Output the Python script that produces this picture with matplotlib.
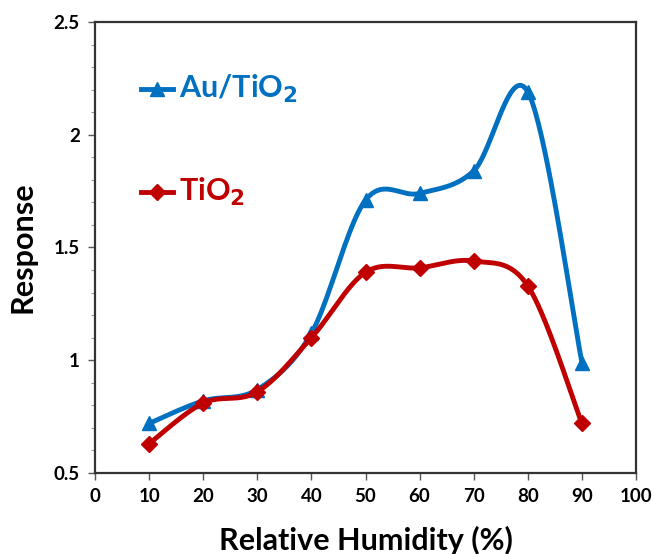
import numpy as np
import matplotlib
matplotlib.use('Agg')
import matplotlib.pyplot as plt
from matplotlib.ticker import MultipleLocator

humidity = [10, 20, 30, 40, 50, 60, 70, 80, 90]
au_tio2 = [0.72, 0.82, 0.87, 1.12, 1.71, 1.74, 1.84, 2.19, 0.99]
tio2 = [0.63, 0.81, 0.86, 1.10, 1.39, 1.41, 1.44, 1.33, 0.72]

BLUE = '#0070C0'
RED = '#C00000'

plt.rcParams['font.family'] = ['Lato', 'DejaVu Sans']
plt.rcParams['font.weight'] = 'bold'
plt.rcParams['mathtext.default'] = 'bf'


def smooth(xs, ys, n=40):
    """Excel-like smoothed line: cubic bezier, control points at 1/6 of neighbour span."""
    xs = np.asarray(xs, float)
    ys = np.asarray(ys, float)
    px = np.concatenate([[xs[0]], xs, [xs[-1]]])
    py = np.concatenate([[ys[0]], ys, [ys[-1]]])
    out_x, out_y = [], []
    t = np.linspace(0, 1, n)
    for i in range(1, len(px) - 2):
        p0 = np.array([px[i], py[i]])
        p3 = np.array([px[i + 1], py[i + 1]])
        c1 = p0 + (np.array([px[i + 1], py[i + 1]]) - np.array([px[i - 1], py[i - 1]])) / 6
        c2 = p3 - (np.array([px[i + 2], py[i + 2]]) - np.array([px[i], py[i]])) / 6
        b = ((1 - t) ** 3)[:, None] * p0 + (3 * (1 - t) ** 2 * t)[:, None] * c1 \
            + (3 * (1 - t) * t ** 2)[:, None] * c2 + (t ** 3)[:, None] * p3
        out_x.extend(b[:, 0])
        out_y.extend(b[:, 1])
    return out_x, out_y


fig = plt.figure(figsize=(6.54, 5.54), dpi=100)
ax = fig.add_axes([0.1453, 0.1462, 0.8272, 0.8141])

for ys, color, marker, ms in [(au_tio2, BLUE, '^', 10), (tio2, RED, 'D', 8)]:
    sx, sy = smooth(humidity, ys)
    ax.plot(sx, sy, color=color, lw=3.5, solid_capstyle='round')
    ax.plot(humidity, ys, ls='none', marker=marker, ms=ms, color=color)

ax.set_xlim(0, 100)
ax.set_ylim(0.5, 2.5)
ax.xaxis.set_major_locator(MultipleLocator(10))
ax.yaxis.set_minor_locator(MultipleLocator(0.1))
ax.set_yticks([0.5, 1, 1.5, 2, 2.5])
ax.set_yticklabels(['0.5', '1', '1.5', '2', '2.5'])
ax.tick_params(axis='both', which='major', direction='out', length=5, width=1,
               labelsize=13.5, colors='#555555', labelcolor='black', pad=6)
ax.tick_params(axis='y', which='minor', direction='out', length=3, width=0.8, colors='#999999')
for lab in ax.get_xticklabels() + ax.get_yticklabels():
    lab.set_fontweight('bold')
for sp in ax.spines.values():
    sp.set_linewidth(1.6)
    sp.set_color('#333333')

ax.set_xlabel('Relative Humidity (%)', fontsize=22, fontweight='bold', labelpad=15)
ax.set_ylabel('Response', fontsize=22, fontweight='bold', labelpad=12)

# in-plot legend
legend_items = [('Au/TiO$_2$', BLUE, '^', 10, 2.205),
                ('TiO$_2$', RED, 'D', 8, 1.745)]
for label, color, marker, ms, yv in legend_items:
    ax.plot([8.5, 14.5], [yv, yv], color=color, lw=3.5)
    ax.plot([11.5], [yv], marker=marker, ms=ms, color=color)
    ax.text(15.5, yv, label, color=color, fontsize=22, fontweight='bold', va='center')

fig.savefig('out.png', dpi=100)
